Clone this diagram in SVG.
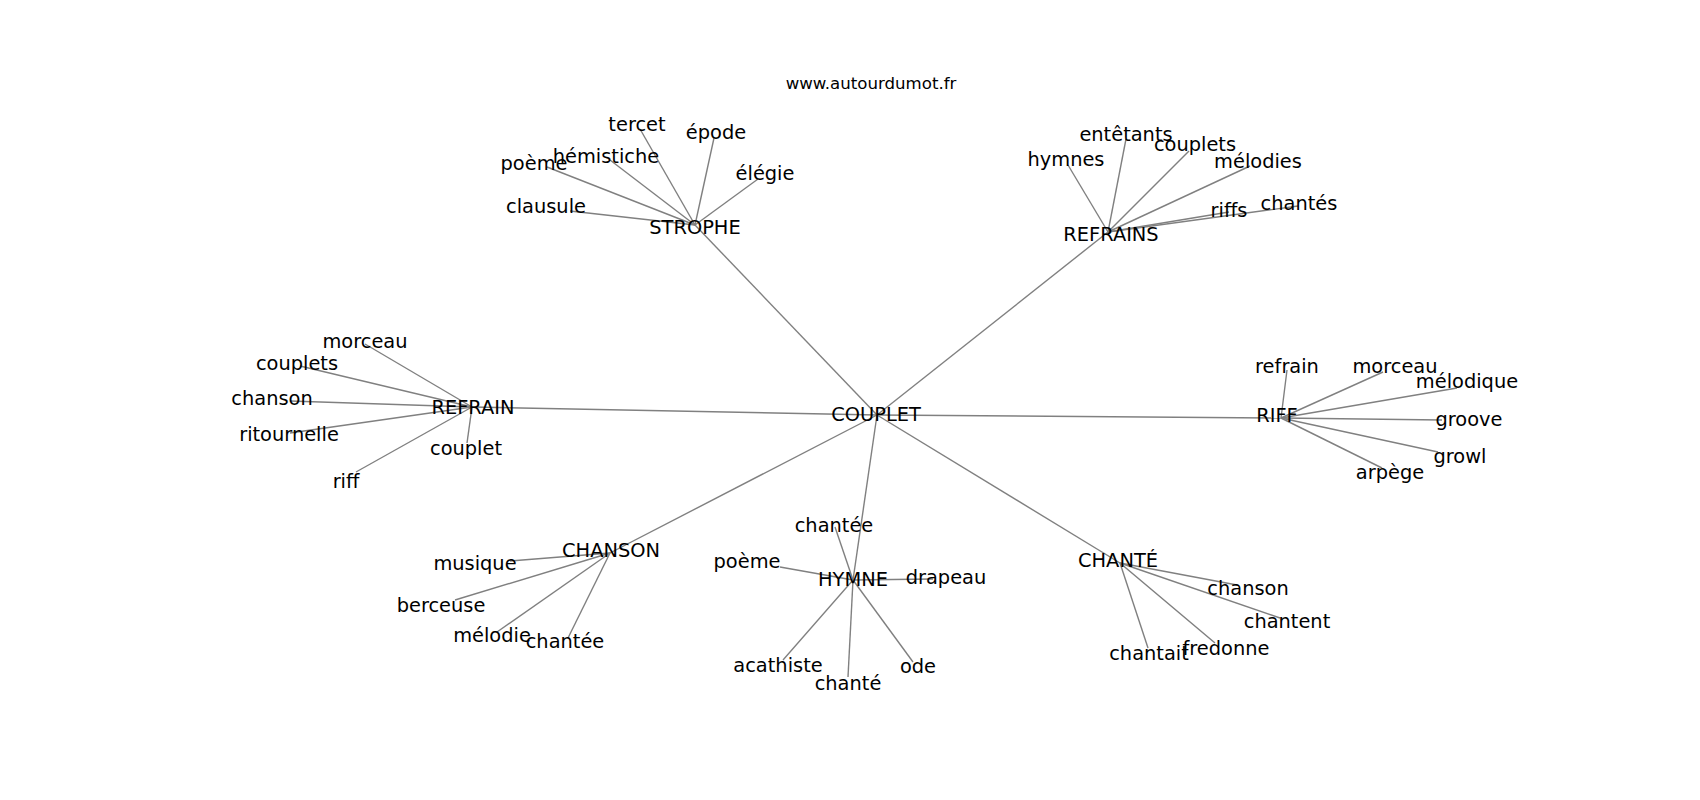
<svg xmlns="http://www.w3.org/2000/svg" width="1700" height="800" viewBox="0 0 1700 800">
<style>
text{font-family:"DejaVu Sans","Liberation Sans",sans-serif;font-size:19.4px;fill:#000;text-anchor:middle}
.title{font-size:16.6px}
#edges line{stroke:#808080;stroke-width:1.4}
</style>
<rect width="1700" height="800" fill="#fff"/>
<g id="edges">
<line x1="877" y1="415" x2="695" y2="225"/>
<line x1="877" y1="415" x2="1108" y2="232"/>
<line x1="877" y1="415" x2="472" y2="407"/>
<line x1="877" y1="415" x2="1281" y2="418"/>
<line x1="877" y1="415" x2="610" y2="553"/>
<line x1="877" y1="415" x2="853" y2="580"/>
<line x1="877" y1="415" x2="1120" y2="563"/>
<line x1="695" y1="225" x2="640" y2="129"/>
<line x1="695" y1="225" x2="714" y2="138"/>
<line x1="695" y1="225" x2="758" y2="179"/>
<line x1="695" y1="225" x2="610" y2="160"/>
<line x1="695" y1="225" x2="547" y2="167"/>
<line x1="695" y1="225" x2="570" y2="211"/>
<line x1="1108" y1="232" x2="1068" y2="165"/>
<line x1="1108" y1="232" x2="1126" y2="139"/>
<line x1="1108" y1="232" x2="1189" y2="151"/>
<line x1="1108" y1="232" x2="1250" y2="166"/>
<line x1="1108" y1="232" x2="1229" y2="212"/>
<line x1="1108" y1="232" x2="1298" y2="206"/>
<line x1="472" y1="407" x2="365" y2="344"/>
<line x1="472" y1="407" x2="300" y2="366"/>
<line x1="472" y1="407" x2="290" y2="401"/>
<line x1="472" y1="407" x2="290" y2="433"/>
<line x1="472" y1="407" x2="467" y2="443"/>
<line x1="472" y1="407" x2="356" y2="472"/>
<line x1="1281" y1="418" x2="1287" y2="370"/>
<line x1="1281" y1="418" x2="1383" y2="372"/>
<line x1="1281" y1="418" x2="1457" y2="388"/>
<line x1="1281" y1="418" x2="1442" y2="420"/>
<line x1="1281" y1="418" x2="1438" y2="452"/>
<line x1="1281" y1="418" x2="1382" y2="468"/>
<line x1="610" y1="553" x2="510" y2="561"/>
<line x1="610" y1="553" x2="455" y2="600"/>
<line x1="610" y1="553" x2="497" y2="632"/>
<line x1="610" y1="553" x2="568" y2="638"/>
<line x1="853" y1="580" x2="835" y2="527"/>
<line x1="853" y1="580" x2="780" y2="567"/>
<line x1="853" y1="580" x2="933" y2="579"/>
<line x1="853" y1="580" x2="783" y2="660"/>
<line x1="853" y1="580" x2="848" y2="677"/>
<line x1="853" y1="580" x2="913" y2="662"/>
<line x1="1120" y1="563" x2="1237" y2="585"/>
<line x1="1120" y1="563" x2="1280" y2="618"/>
<line x1="1120" y1="563" x2="1148" y2="648"/>
<line x1="1120" y1="563" x2="1215" y2="643"/>
</g>
<text class="title" x="871" y="89">www.autourdumot.fr</text>
<g id="n-couplet"><text x="876" y="421">COUPLET</text></g>
<g id="n-strophe"><text x="695" y="234">STROPHE</text></g>
<g id="n-tercet"><text x="637" y="131">tercet</text></g>
<g id="n-epode"><text x="716" y="139">épode</text></g>
<g id="n-elegie"><text x="765" y="180">élégie</text></g>
<g id="n-hemistiche"><text x="606" y="163">hémistiche</text></g>
<g id="n-poeme1"><text x="534" y="170">poème</text></g>
<g id="n-clausule"><text x="546" y="213">clausule</text></g>
<g id="n-refrains"><text x="1111" y="241">REFRAINS</text></g>
<g id="n-hymnes"><text x="1066" y="166">hymnes</text></g>
<g id="n-entetants"><text x="1126" y="141">entêtants</text></g>
<g id="n-couplets1"><text x="1195" y="151">couplets</text></g>
<g id="n-melodies"><text x="1258" y="168">mélodies</text></g>
<g id="n-riffs"><text x="1229" y="217">riffs</text></g>
<g id="n-chantes"><text x="1299" y="210">chantés</text></g>
<g id="n-refrain"><text x="473" y="414">REFRAIN</text></g>
<g id="n-morceau1"><text x="365" y="348">morceau</text></g>
<g id="n-couplets2"><text x="297" y="370">couplets</text></g>
<g id="n-chanson1"><text x="272" y="405">chanson</text></g>
<g id="n-ritournelle"><text x="289" y="441">ritournelle</text></g>
<g id="n-couplet2"><text x="466" y="455">couplet</text></g>
<g id="n-riff"><text x="346" y="488">riff</text></g>
<g id="n-riffhub"><text x="1277" y="422">RIFF</text></g>
<g id="n-refrain2"><text x="1287" y="373">refrain</text></g>
<g id="n-morceau2"><text x="1395" y="373">morceau</text></g>
<g id="n-melodique"><text x="1467" y="388">mélodique</text></g>
<g id="n-groove"><text x="1469" y="426">groove</text></g>
<g id="n-growl"><text x="1460" y="463">growl</text></g>
<g id="n-arpege"><text x="1390" y="479">arpège</text></g>
<g id="n-chansonhub"><text x="611" y="557">CHANSON</text></g>
<g id="n-musique"><text x="475" y="570">musique</text></g>
<g id="n-berceuse"><text x="441" y="612">berceuse</text></g>
<g id="n-melodie"><text x="492" y="642">mélodie</text></g>
<g id="n-chantee1"><text x="565" y="648">chantée</text></g>
<g id="n-hymne"><text x="853" y="586">HYMNE</text></g>
<g id="n-chantee2"><text x="834" y="532">chantée</text></g>
<g id="n-poeme2"><text x="747" y="568">poème</text></g>
<g id="n-drapeau"><text x="946" y="584">drapeau</text></g>
<g id="n-acathiste"><text x="778" y="672">acathiste</text></g>
<g id="n-chante"><text x="848" y="690">chanté</text></g>
<g id="n-ode"><text x="918" y="673">ode</text></g>
<g id="n-chantehub"><text x="1118" y="567">CHANTÉ</text></g>
<g id="n-chanson2"><text x="1248" y="595">chanson</text></g>
<g id="n-chantent"><text x="1287" y="628">chantent</text></g>
<g id="n-chantait"><text x="1149" y="660">chantait</text></g>
<g id="n-fredonne"><text x="1226" y="655">fredonne</text></g>
</svg>
